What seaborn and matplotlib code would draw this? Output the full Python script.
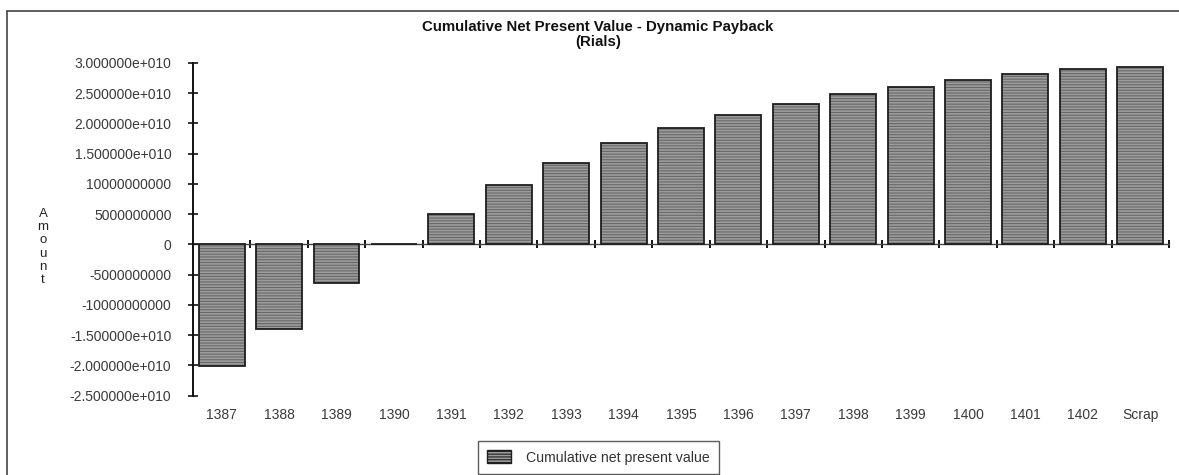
import matplotlib
matplotlib.use("Agg")
import matplotlib.pyplot as plt
from matplotlib.patches import Patch
from matplotlib.lines import Line2D
import seaborn as sns
import pandas as pd
import numpy as np

# Cumulative NPV per year (Rials)
years = ["1387", "1388", "1389", "1390", "1391", "1392", "1393", "1394", "1395",
         "1396", "1397", "1398", "1399", "1400", "1401", "1402", "Scrap"]
cum_npv = [-2.01e10, -1.39e10, -6.4e9, 0.0, 5.1e9, 9.8e9, 1.35e10, 1.67e10, 1.93e10,
           2.135e10, 2.33e10, 2.49e10, 2.61e10, 2.72e10, 2.825e10, 2.90e10, 2.93e10]

ytick_values = [3e10, 2.5e10, 2e10, 1.5e10, 1e10, 5e9, 0, -5e9, -1e10, -1.5e10, -2e10, -2.5e10]
ytick_labels = ["3.000000e+010", "2.500000e+010", "2.000000e+010", "1.500000e+010",
                "10000000000", "5000000000", "0", "-5000000000", "-10000000000",
                "-1.500000e+010", "-2.000000e+010", "-2.500000e+010"]

title_line1 = "Cumulative Net Present Value - Dynamic Payback"
title_line2 = "(Rials)"
ylabel_text = "Amount"
legend_text = "Cumulative net present value"

df = pd.DataFrame({"year": years, "value": cum_npv})

sns.set_theme(style="white")
plt.rcParams["font.family"] = ["Liberation Sans", "DejaVu Sans"]
plt.rcParams["hatch.linewidth"] = 0.8

fig = plt.figure(figsize=(11.79, 4.75), dpi=100)
ax = fig.add_axes([0.1637, 0.1669, 0.8278, 0.7005])

bar_face = "#9c9c9c"
hatch_col = "#686868"
edge_col = "#1e1e1e"

# textured fill
sns.barplot(data=df, x="year", y="value", ax=ax, color=bar_face, width=0.8,
            saturation=1, edgecolor=hatch_col, linewidth=0, hatch="------")
# outlines
sns.barplot(data=df, x="year", y="value", ax=ax, fill=False, width=0.8,
            edgecolor=edge_col, linewidth=1.3)

ax.set_xlim(-0.5, len(years) - 0.5)
ax.set_ylim(-2.5e10, 3e10)

ax.set_yticks(ytick_values)
ax.set_yticklabels(ytick_labels)
ax.tick_params(axis="y", direction="inout", length=7, width=1.2, color="#111111",
               labelsize=10, labelcolor="#3a3a3a", pad=12, left=True)

ax.set_xticks(range(len(years)))
ax.set_xticklabels(years)
ax.tick_params(axis="x", length=0, labelsize=10, labelcolor="#3a3a3a", pad=9)

for s in ["top", "right", "bottom"]:
    ax.spines[s].set_visible(False)
ax.spines["left"].set_color("#111111")
ax.spines["left"].set_linewidth(1.4)

# zero line with category separators
zero_frac = (0 - (-2.5e10)) / (3e10 - (-2.5e10))
sec = ax.secondary_xaxis(zero_frac)
sec.set_xticks(np.arange(len(years) + 1) - 0.5)
sec.set_xticklabels([])
sec.tick_params(direction="inout", length=6, width=1.4, color="#111111")
sec.spines["bottom"].set_color("#444444")
sec.spines["bottom"].set_linewidth(1.0)
sec.spines["top"].set_visible(False)

ax.set_xlabel("")
ax.set_ylabel("")

fig.text(0.5072, 1 - 27 / 475, title_line1, ha="center", va="center", fontsize=10.8,
         fontweight="bold", color="#111111")
fig.text(0.5072, 1 - 42 / 475, title_line2, ha="center", va="center", fontsize=10.8,
         fontweight="bold", color="#111111")

fig.text(0.0365, 1 - 247 / 475, "\n".join(ylabel_text), ha="center", va="center",
         fontsize=9.5, linespacing=1.15, color="#222222")

handle = Patch(facecolor=bar_face, edgecolor=edge_col, hatch="------", linewidth=1.0)
leg = fig.legend([handle], [legend_text], loc="center", bbox_to_anchor=(0.5075, 0.037),
                 frameon=True, fancybox=False, fontsize=10.2, handlelength=1.7,
                 handleheight=1.0, borderpad=0.65, handletextpad=1.0, borderaxespad=0.0)
leg.get_frame().set_edgecolor("#333333")
leg.get_frame().set_linewidth(1.0)
for t in leg.get_texts():
    t.set_color("#333333")

# outer frame of the chart area
fig.add_artist(Line2D([0.006, 0.006], [0.0, 0.977], transform=fig.transFigure,
                      color="#444444", lw=1.2))
fig.add_artist(Line2D([0.006, 1.0], [0.977, 0.977], transform=fig.transFigure,
                      color="#444444", lw=1.2))

fig.savefig("out.png", dpi=100)
